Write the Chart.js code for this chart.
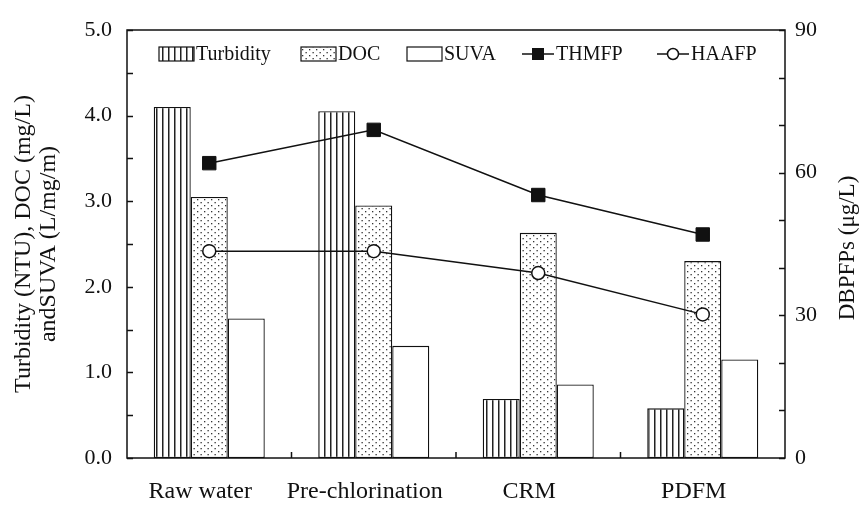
<!DOCTYPE html>
<html lang="en">
<head>
    <meta charset="UTF-8">
    <title>Turbidity, DOC, SUVA and DBPFPs</title>
    <script src="https://cdn.jsdelivr.net/npm/chart.js@4.4.0/dist/chart.umd.min.js"></script>
    <style>
        html, body {
            margin: 0;
            padding: 0;
            background: #fff;
        }
        .wrap {
            width: 866px;
            height: 525px;
        }
    </style>
</head>
<body>
    <div class="wrap"><canvas id="chart" width="866" height="525"></canvas></div>

    <script>
        // Data
        const categories = ['Raw water', 'Pre-chlorination', 'CRM', 'PDFM'];
        const turbidity = [4.10, 4.05, 0.69, 0.58];   // NTU
        const doc = [3.05, 2.95, 2.63, 2.30];         // mg/L
        const suva = [1.63, 1.31, 0.86, 1.15];        // L/mg/m
        const thmfp = [62.0, 69.0, 55.3, 47.0];       // µg/L
        const haafp = [43.5, 43.5, 38.9, 30.2];       // µg/L

        const FONT = '"Liberation Serif", "Times New Roman", serif';
        const INK = '#111';

        // Fill patterns
        function makePattern(w, h, paint) {
            const c = document.createElement('canvas');
            c.width = w;
            c.height = h;
            const g = c.getContext('2d');
            g.fillStyle = '#fff';
            g.fillRect(0, 0, w, h);
            paint(g);
            return g.createPattern(c, 'repeat');
        }
        const stripes = makePattern(6, 6, g => {
            g.fillStyle = '#222';
            g.fillRect(0, 0, 1.5, 6);
        });
        const dots = makePattern(7, 6, g => {
            g.fillStyle = '#333';
            g.fillRect(1, 1, 1.3, 1.3);
            g.fillRect(4.5, 4, 1.3, 1.3);
        });

        // Inward ticks + closed frame
        const frameTicks = {
            id: 'frameTicks',
            afterDatasetsDraw(chart) {
                const { ctx, chartArea: a, scales } = chart;
                ctx.save();
                ctx.strokeStyle = INK;
                ctx.lineWidth = 1.5;
                ctx.strokeRect(a.left, a.top, a.right - a.left, a.bottom - a.top);
                ctx.beginPath();
                scales.y.ticks.forEach(t => {
                    const y = Math.round(scales.y.getPixelForValue(t.value)) + 0.5;
                    ctx.moveTo(a.left, y);
                    ctx.lineTo(a.left + 6, y);
                });
                scales.y2.ticks.forEach(t => {
                    const y = Math.round(scales.y2.getPixelForValue(t.value)) + 0.5;
                    ctx.moveTo(a.right, y);
                    ctx.lineTo(a.right - 6, y);
                });
                for (let i = 1; i < categories.length; i++) {
                    const x = (scales.x.getPixelForValue(i - 1) + scales.x.getPixelForValue(i)) / 2;
                    ctx.moveTo(x, a.bottom);
                    ctx.lineTo(x, a.bottom - 6);
                }
                ctx.stroke();
                ctx.restore();
            }
        };

        // Right axis title, reading bottom to top like the left one
        const rightTitle = {
            id: 'rightTitle',
            afterDraw(chart) {
                const { ctx, chartArea: a } = chart;
                ctx.save();
                ctx.translate(a.right + 63, (a.top + a.bottom) / 2 + 4);
                ctx.rotate(-Math.PI / 2);
                ctx.font = '23px ' + FONT;
                ctx.fillStyle = INK;
                ctx.textAlign = 'center';
                ctx.textBaseline = 'middle';
                ctx.fillText('DBPFPs (μg/L)', 0, 0);
                ctx.restore();
            }
        };

        // Legend inside the frame
        const legendSlots = [32, 174, 280, 395, 530];
        const patternLegend = {
            id: 'patternLegend',
            afterDraw(chart) {
                const { ctx, chartArea: a } = chart;
                const y = a.top + 24;
                ctx.save();
                ctx.font = '20px ' + FONT;
                ctx.textBaseline = 'middle';
                chart.data.datasets.forEach((d, i) => {
                    const x0 = a.left + legendSlots[i];
                    let tx;
                    if (d.type === 'bar') {
                        ctx.fillStyle = d.backgroundColor;
                        ctx.fillRect(x0, y - 7, 35, 14);
                        ctx.strokeStyle = INK;
                        ctx.lineWidth = 1.2;
                        ctx.strokeRect(x0, y - 7, 35, 14);
                        tx = x0 + 37;
                    } else {
                        ctx.strokeStyle = INK;
                        ctx.lineWidth = 1.5;
                        ctx.beginPath();
                        ctx.moveTo(x0, y);
                        ctx.lineTo(x0 + 32, y);
                        ctx.stroke();
                        if (d.pointStyle === 'rect') {
                            ctx.fillStyle = INK;
                            ctx.fillRect(x0 + 10, y - 6, 12, 12);
                        } else {
                            ctx.fillStyle = '#fff';
                            ctx.beginPath();
                            ctx.arc(x0 + 16, y, 5.5, 0, Math.PI * 2);
                            ctx.fill();
                            ctx.stroke();
                        }
                        tx = x0 + 34;
                    }
                    ctx.fillStyle = INK;
                    ctx.fillText(d.label, tx, y + 1);
                });
                ctx.restore();
            }
        };

        const barStyle = { borderColor: INK, borderWidth: 1.3, borderSkipped: false, order: 2 };

        const chart = new Chart(document.getElementById('chart').getContext('2d'), {
            type: 'bar',
            data: {
                labels: categories,
                datasets: [
                    { type: 'bar', label: 'Turbidity', data: turbidity, backgroundColor: stripes, yAxisID: 'y', ...barStyle },
                    { type: 'bar', label: 'DOC', data: doc, backgroundColor: dots, yAxisID: 'y', ...barStyle },
                    { type: 'bar', label: 'SUVA', data: suva, backgroundColor: '#fff', yAxisID: 'y', ...barStyle },
                    {
                        type: 'line', label: 'THMFP', data: thmfp, yAxisID: 'y2', order: 1,
                        borderColor: INK, borderWidth: 1.5, pointStyle: 'rect', pointRadius: 9.5,
                        pointBackgroundColor: INK, pointBorderColor: INK, pointBorderWidth: 1
                    },
                    {
                        type: 'line', label: 'HAAFP', data: haafp, yAxisID: 'y2', order: 1,
                        borderColor: INK, borderWidth: 1.5, pointStyle: 'circle', pointRadius: 6.5,
                        pointBackgroundColor: '#fff', pointBorderColor: INK, pointBorderWidth: 1.5
                    }
                ]
            },
            options: {
                responsive: false,
                animation: false,
                layout: { padding: { top: 30, left: 0, right: 0, bottom: 0 } },
                datasets: {
                    bar: { categoryPercentage: 0.675, barPercentage: 1.0 }
                },
                plugins: {
                    legend: { display: false },
                    tooltip: { enabled: false }
                },
                scales: {
                    x: {
                        offset: true,
                        grid: { display: false, drawTicks: false },
                        border: { display: false },
                        ticks: {
                            color: INK, font: { family: FONT, size: 24 },
                            padding: 19, labelOffset: -9, maxRotation: 0, autoSkip: false
                        },
                        afterFit(s) { s.height = 67; }
                    },
                    y: {
                        position: 'left',
                        min: 0, max: 5,
                        grid: { display: false, drawTicks: false },
                        border: { display: false },
                        ticks: {
                            stepSize: 0.5, color: INK, padding: 15,
                            font: { family: FONT, size: 22 },
                            callback: v => Number.isInteger(v) ? v.toFixed(1) : ''
                        },
                        title: {
                            display: true,
                            text: ['Turbidity (NTU), DOC (mg/L)', 'andSUVA (L/mg/m)'],
                            color: INK,
                            font: { family: FONT, size: 24, lineHeight: 1.05 },
                            padding: { top: 11, bottom: 0 }
                        },
                        afterFit(s) { s.width = 127; }
                    },
                    y2: {
                        position: 'right',
                        min: 0, max: 90,
                        grid: { display: false, drawTicks: false },
                        border: { display: false },
                        ticks: {
                            stepSize: 10, color: INK, padding: 10,
                            font: { family: FONT, size: 22 },
                            callback: v => v % 30 === 0 ? v : ''
                        },
                        afterFit(s) { s.width = 81; }
                    }
                }
            },
            plugins: [frameTicks, rightTitle, patternLegend]
        });
    </script>
</body>
</html>
